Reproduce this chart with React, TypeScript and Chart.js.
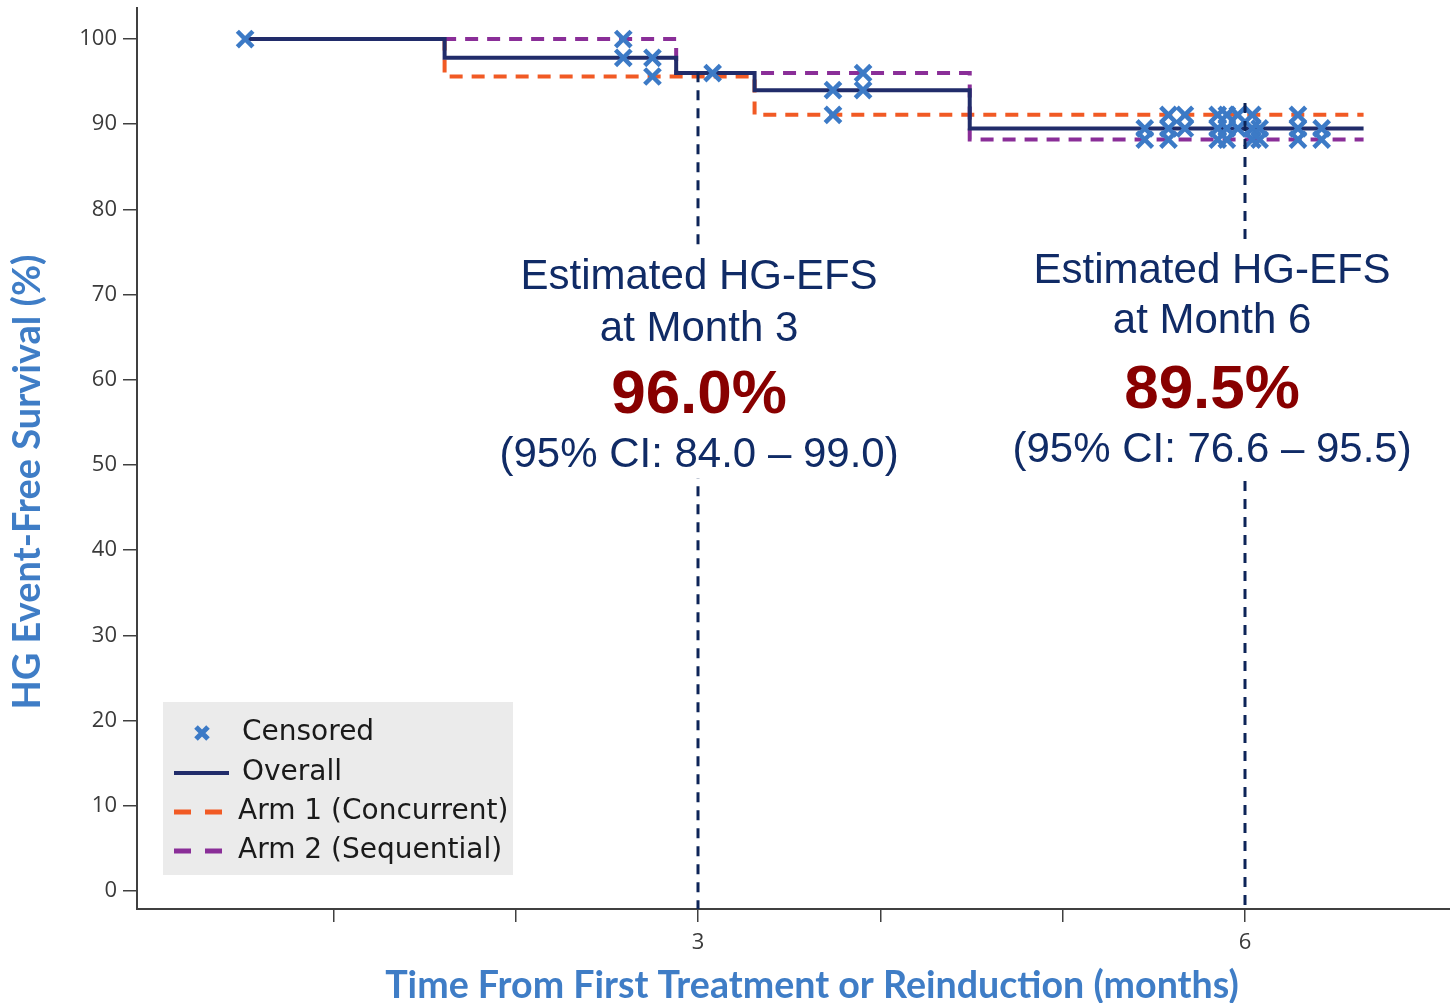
import React, { useEffect, useRef } from 'react';
import { Chart, registerables } from 'chart.js';

Chart.register(...registerables);

// ---- Data ----
const overallTime = [0.516, 1.61, 2.88, 3.31, 4.49, 6.65];
const overallSurv = [100, 97.8, 96.0, 94.0, 89.5, 89.5];
const arm1Time = [0.516, 1.61, 3.31, 6.65];
const arm1Surv = [100, 95.6, 91.1, 91.1];
const arm2Time = [0.516, 2.88, 4.49, 6.65];
const arm2Surv = [100, 96.0, 88.2, 88.2];

const censorTime = [
  0.516, 2.59, 2.59, 2.75, 2.75, 3.08, 3.74, 3.74, 3.905, 3.905,
  5.45, 5.45, 5.58, 5.58, 5.58, 5.67, 5.67, 5.85, 5.85, 5.85,
  5.9, 5.9, 5.9, 5.96, 5.96, 6.04, 6.04, 6.04, 6.08, 6.08,
  6.29, 6.29, 6.29, 6.42, 6.42,
];
const censorSurv = [
  100, 100, 97.8, 97.8, 95.6, 96.0, 94.0, 91.1, 96.0, 94.0,
  89.5, 88.2, 91.1, 89.5, 88.2, 91.1, 89.5, 91.1, 89.5, 88.2,
  91.1, 89.5, 88.2, 91.1, 89.5, 91.1, 89.5, 88.2, 89.5, 88.2,
  91.1, 89.5, 88.2, 89.5, 88.2,
];

const yTicks = [0, 10, 20, 30, 40, 50, 60, 70, 80, 90, 100];
const xTicks = [1, 2, 3, 4, 5, 6];
const xTickLabels = ['', '', '3', '', '', '6'];

const legendLabels = ['Censored', 'Overall', 'Arm 1 (Concurrent)', 'Arm 2 (Sequential)'];
const seriesNames = ['Censored', 'Overall', 'Arm 1 (Concurrent)', 'Arm 2 (Sequential)'];

const markTimes = [3, 6];
const markTops = [96.1, 92.5];
const annotTitle1 = ['Estimated HG-EFS', 'Estimated HG-EFS'];
const annotTitle2 = ['at Month 3', 'at Month 6'];
const annotValue = ['96.0%', '89.5%'];
const annotCI = ['(95% CI: 84.0 \u2013 99.0)', '(95% CI: 76.6 \u2013 95.5)'];

const xTitle = 'Time From First Treatment or Reinduction (months)';
const yTitle = 'HG Event-Free Survival (%)';

// ---- Styles ----
const NAVY = '#212C6A';
const ORANGE = '#F15A24';
const PURPLE = '#8A2E98';
const CENSOR = '#3C7AC6';
const VLINE = '#0D2458';
const TEXT_NAVY = '#102B66';
const RED = '#880000';
const AXIS_BLUE = '#3F7DC6';
const AXIS_GREY = '#404040';

const toXY = (xs: number[], ys: number[]) => xs.map((x, i) => ({ x, y: ys[i] }));

function fitFont(ctx: CanvasRenderingContext2D, text: string, target: number, weight: string, family: string) {
  ctx.font = `${weight} 30px ${family}`;
  const w = ctx.measureText(text).width;
  return 30 * target / w;
}

const annotPlugin = {
  id: 'annotations',
  afterDatasetsDraw(chart: any) {
    const { ctx, chartArea } = chart;
    const xs = chart.scales.x;
    const ys = chart.scales.y;
    ctx.save();
    // vertical dashed reference lines
    ctx.strokeStyle = VLINE;
    ctx.lineWidth = 3;
    ctx.setLineDash([10, 8]);
    markTimes.forEach((t, i) => {
      const px = Math.round(xs.getPixelForValue(t));
      ctx.beginPath();
      ctx.moveTo(px, ys.getPixelForValue(markTops[i]));
      ctx.lineTo(px, chartArea.bottom);
      ctx.stroke();
    });
    ctx.setLineDash([]);

    // text blocks
    const dxs = [1, -33];
    const bases = [[289, 341, 413, 467], [283, 333, 408, 462]];
    markTimes.forEach((t, i) => {
      const cx = xs.getPixelForValue(t) + dxs[i];
      const b = bases[i];
      ctx.font = '42px "Liberation Sans", Arial, sans-serif';
      const w = Math.max(
        ctx.measureText(annotTitle1[i]).width,
        ctx.measureText(annotCI[i]).width,
      );
      ctx.fillStyle = '#ffffff';
      ctx.fillRect(cx - w / 2 - 6, b[0] - 44, w + 12, b[3] - b[0] + 55);
      ctx.textAlign = 'center';
      ctx.textBaseline = 'alphabetic';
      ctx.fillStyle = TEXT_NAVY;
      ctx.fillText(annotTitle1[i], cx, b[0]);
      ctx.fillText(annotTitle2[i], cx, b[1]);
      ctx.fillText(annotCI[i], cx, b[3]);
      ctx.font = 'bold 62px "Liberation Sans", Arial, sans-serif';
      ctx.fillStyle = RED;
      ctx.fillText(annotValue[i], cx, b[2]);
    });
    ctx.restore();
  },
  afterDraw(chart: any) {
    const { ctx } = chart;
    ctx.save();
    // axis titles
    ctx.fillStyle = AXIS_BLUE;
    ctx.textAlign = 'center';
    ctx.textBaseline = 'middle';
    const fx = fitFont(ctx, xTitle, 854, 'bold', 'Lato, sans-serif');
    ctx.font = `bold ${fx}px Lato, sans-serif`;
    ctx.fillText(xTitle, 812, 986);
    const fy = fitFont(ctx, yTitle, 455, 'bold', 'Lato, sans-serif');
    ctx.translate(28, 482);
    ctx.rotate(-Math.PI / 2);
    ctx.font = `bold ${fy}px Lato, sans-serif`;
    ctx.fillText(yTitle, 0, 0);
    ctx.restore();

    // legend
    ctx.save();
    ctx.fillStyle = '#EBEBEB';
    ctx.fillRect(163, 702, 350, 173);
    const rows = [733, 773, 812, 851];
    const textX = [242, 242, 238, 238];
    ctx.font = '28px "DejaVu Sans", sans-serif';
    ctx.textAlign = 'left';
    ctx.textBaseline = 'middle';
    ctx.fillStyle = '#1a1a1a';
    legendLabels.forEach((l, i) => ctx.fillText(l, textX[i], rows[i]));
    // censored symbol
    ctx.strokeStyle = CENSOR;
    ctx.lineWidth = 5;
    ctx.beginPath();
    ctx.moveTo(196, rows[0] - 6); ctx.lineTo(208, rows[0] + 6);
    ctx.moveTo(208, rows[0] - 6); ctx.lineTo(196, rows[0] + 6);
    ctx.stroke();
    // overall
    ctx.strokeStyle = NAVY;
    ctx.lineWidth = 4;
    ctx.beginPath(); ctx.moveTo(174, rows[1]); ctx.lineTo(229, rows[1]); ctx.stroke();
    // arms
    [ORANGE, PURPLE].forEach((c, k) => {
      ctx.strokeStyle = c;
      ctx.lineWidth = 5;
      const yy = rows[2 + k];
      ctx.beginPath();
      ctx.moveTo(174, yy); ctx.lineTo(191, yy);
      ctx.moveTo(205, yy); ctx.lineTo(222, yy);
      ctx.stroke();
    });
    ctx.restore();
  },
};

export default function App() {
  const ref = useRef<HTMLCanvasElement | null>(null);

  useEffect(() => {
    if (!ref.current) return;
    const chart = new Chart(ref.current, {
      type: 'line',
      data: {
        datasets: [
          {
            label: seriesNames[0],
            data: toXY(censorTime, censorSurv),
            showLine: false,
            pointStyle: 'crossRot',
            pointRadius: 11,
            pointBorderWidth: 4.5,
            pointBorderColor: CENSOR,
            pointBackgroundColor: CENSOR,
            borderColor: CENSOR,
            order: 0,
          },
          {
            label: seriesNames[1],
            data: toXY(overallTime, overallSurv),
            stepped: true,
            borderColor: NAVY,
            borderWidth: 4,
            pointRadius: 0,
            fill: false,
            order: 1,
          },
          {
            label: seriesNames[3],
            data: toXY(arm2Time, arm2Surv),
            stepped: true,
            borderColor: PURPLE,
            borderWidth: 4,
            borderDash: [13, 9],
            pointRadius: 0,
            fill: false,
            order: 2,
          },
          {
            label: seriesNames[2],
            data: toXY(arm1Time, arm1Surv),
            stepped: true,
            borderColor: ORANGE,
            borderWidth: 4,
            borderDash: [13, 9],
            pointRadius: 0,
            fill: false,
            order: 3,
          },
        ],
      },
      options: {
        animation: false,
        responsive: false,
        layout: { autoPadding: false, padding: { top: 8, left: 0, right: 0, bottom: 0 } },
        plugins: {
          legend: { display: false },
          tooltip: { enabled: false },
          title: { display: false },
        },
        scales: {
          x: {
            type: 'linear',
            min: -0.077,
            max: 7.124,
            afterBuildTicks: (s: any) => { s.ticks = xTicks.map((v) => ({ value: v })); },
            afterFit: (s: any) => { s.height = 94; s.paddingLeft = 0; s.paddingRight = 0; },
            ticks: {
              autoSkip: false,
              maxRotation: 0,
              padding: 8,
              color: '#3a3a3a',
              font: { family: '"Open Sans", sans-serif', size: 22 },
              callback: (v: any) => {
                const i = xTicks.indexOf(Number(v));
                return i >= 0 ? xTickLabels[i] : '';
              },
            },
            grid: {
              display: true,
              drawOnChartArea: false,
              drawTicks: true,
              tickLength: 13,
              color: AXIS_GREY,
              lineWidth: 1.5,
            },
            border: { display: true, color: AXIS_GREY, width: 2 },
          },
          y: {
            type: 'linear',
            min: -2.11,
            max: 103.64,
            afterBuildTicks: (s: any) => { s.ticks = yTicks.map((v) => ({ value: v })); },
            afterFit: (s: any) => { s.width = 137; s.paddingTop = 0; s.paddingBottom = 0; },
            ticks: {
              autoSkip: false,
              padding: 6,
              color: '#3a3a3a',
              font: { family: '"Open Sans", sans-serif', size: 22 },
              callback: (v: any) => String(v),
            },
            grid: {
              display: true,
              drawOnChartArea: false,
              drawTicks: true,
              tickLength: 14,
              color: AXIS_GREY,
              lineWidth: 1.5,
            },
            border: { display: true, color: AXIS_GREY, width: 2 },
          },
        },
      },
      plugins: [annotPlugin],
    } as any);
    return () => chart.destroy();
  }, []);

  return (
    <div style={{ position: 'fixed', left: 0, top: 0, width: 1450, height: 1003, background: '#fff' }}>
      <canvas ref={ref} width={1450} height={1003} />
    </div>
  );
}
